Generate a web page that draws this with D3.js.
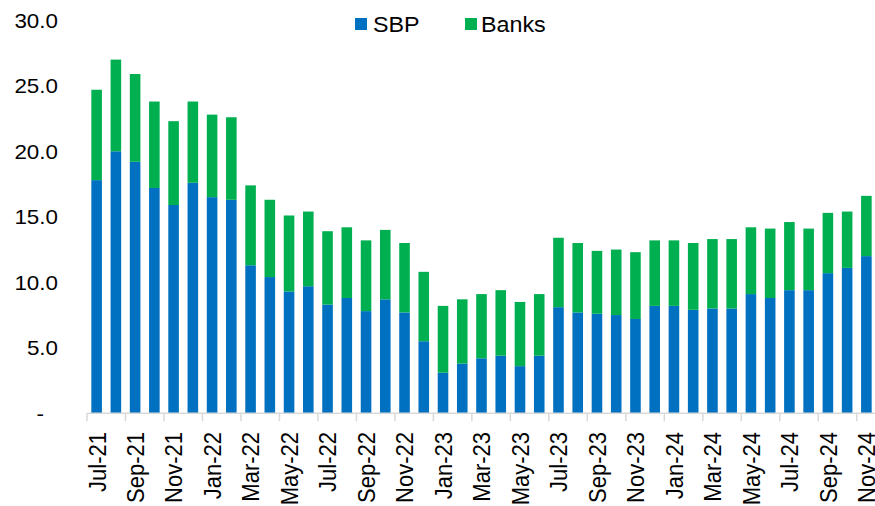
<!DOCTYPE html>
<html>
<head>
<meta charset="utf-8">
<script src="https://cdn.jsdelivr.net/npm/d3@7"></script>
<style>
  html, body { margin: 0; padding: 0; background: #fff; }
  svg text { font-family: "Liberation Sans", Arial, sans-serif; fill: #000; }
</style>
</head>
<body>
<svg id="chart" width="875" height="506"></svg>
<script>
// Monthly categories, Jul-21 .. Nov-24
const months = [
  "Jul-21","Aug-21","Sep-21","Oct-21","Nov-21","Dec-21",
  "Jan-22","Feb-22","Mar-22","Apr-22","May-22","Jun-22","Jul-22","Aug-22","Sep-22","Oct-22","Nov-22","Dec-22",
  "Jan-23","Feb-23","Mar-23","Apr-23","May-23","Jun-23","Jul-23","Aug-23","Sep-23","Oct-23","Nov-23","Dec-23",
  "Jan-24","Feb-24","Mar-24","Apr-24","May-24","Jun-24","Jul-24","Aug-24","Sep-24","Oct-24","Nov-24"
];

// SBP holdings
const sbp = [
  17.8, 20.0, 19.2, 17.2, 15.9, 17.6,
  16.5, 16.3, 11.3, 10.4, 9.3, 9.7, 8.3, 8.8, 7.8, 8.7, 7.7, 5.5,
  3.1, 3.8, 4.2, 4.4, 3.6, 4.4, 8.1, 7.7, 7.6, 7.5, 7.2, 8.2,
  8.2, 7.9, 8.0, 8.0, 9.1, 8.8, 9.4, 9.4, 10.7, 11.1, 12.0
];

// Banks holdings
const banks = [
  6.9, 7.0, 6.7, 6.6, 6.4, 6.2,
  6.3, 6.3, 6.1, 5.9, 5.8, 5.7, 5.6, 5.4, 5.4, 5.3, 5.3, 5.3,
  5.1, 4.9, 4.9, 5.0, 4.9, 4.7, 5.3, 5.3, 4.8, 5.0, 5.1, 5.0,
  5.0, 5.1, 5.3, 5.3, 5.1, 5.3, 5.2, 4.7, 4.6, 4.3, 4.6
];

const seriesNames = ["SBP", "Banks"];
const seriesColors = ["#0070C0", "#00B050"];
const yTicks = [0, 5, 10, 15, 20, 25, 30];

const svg = d3.select("#chart");

const x = d3.scaleBand()
  .domain(months)
  .range([87, 876])
  .paddingInner(0.45)
  .paddingOuter(0.225);

const y = d3.scaleLinear()
  .domain([0, 30])
  .range([413.3, 20.3]);

const rows = months.map((m, i) => ({ month: m, SBP: sbp[i], Banks: banks[i] }));
const stacked = d3.stack().keys(seriesNames)(rows);

// Bars
svg.append("g")
  .selectAll("g")
  .data(stacked)
  .join("g")
  .attr("fill", (d, i) => seriesColors[i])
  .selectAll("rect")
  .data(d => d)
  .join("rect")
  .attr("x", d => x(d.data.month))
  .attr("width", x.bandwidth())
  .attr("y", d => y(d[1]))
  .attr("height", d => y(d[0]) - y(d[1]));

// Y axis labels (no axis line)
const yAxis = svg.append("g").attr("transform", "translate(58,0)");
yTicks.forEach(v => {
  const isZero = v === 0;
  yAxis.append("text")
    .attr("transform", `translate(${isZero ? -14 : 0},${y(v)}) scale(1.12,1)`)
    .attr("text-anchor", "end")
    .attr("dy", "0.36em")
    .style("font-size", "20px")
    .text(isZero ? "-" : d3.format(".1f")(v));
});

// X axis line and tick marks at every other category boundary
const xAxisG = svg.append("g");
xAxisG.append("line")
  .attr("x1", 87).attr("x2", 876)
  .attr("y1", y(0)).attr("y2", y(0))
  .attr("stroke", "#d9d9d9").attr("stroke-width", 1.5);

const step = x.step();
months.forEach((m, i) => {
  if (i % 2 === 0) {
    const bx = x(m) - x.paddingOuter() * step + (x.paddingOuter() * step) ;
    const boundary = 87 + i * step;
    xAxisG.append("line")
      .attr("x1", boundary).attr("x2", boundary)
      .attr("y1", y(0)).attr("y2", y(0) + 8)
      .attr("stroke", "#d9d9d9").attr("stroke-width", 1.5);
    const cx = x(m) + x.bandwidth() / 2;
    xAxisG.append("text")
      .attr("transform", `translate(${cx},432) scale(1.12,1) rotate(-90)`)
      .attr("text-anchor", "end")
      .attr("dy", "0.36em")
      .style("font-size", "22px")
      .text(m);
  }
});
xAxisG.append("line")
  .attr("x1", 87 + months.length * step).attr("x2", 87 + months.length * step)
  .attr("y1", y(0)).attr("y2", y(0) + 8)
  .attr("stroke", "#d9d9d9").attr("stroke-width", 1.5);

// Legend
const legendItems = [
  { name: "SBP", color: seriesColors[0], sx: 355, tx: 373 },
  { name: "Banks", color: seriesColors[1], sx: 465, tx: 481 }
];
const legend = svg.append("g");
legendItems.forEach(it => {
  legend.append("rect")
    .attr("x", it.sx).attr("y", 18)
    .attr("width", 12).attr("height", 12)
    .attr("fill", it.color);
  legend.append("text")
    .attr("transform", `translate(${it.tx},32) scale(1.06,1)`)
    .style("font-size", "22px")
    .text(it.name);
});
</script>
</body>
</html>
